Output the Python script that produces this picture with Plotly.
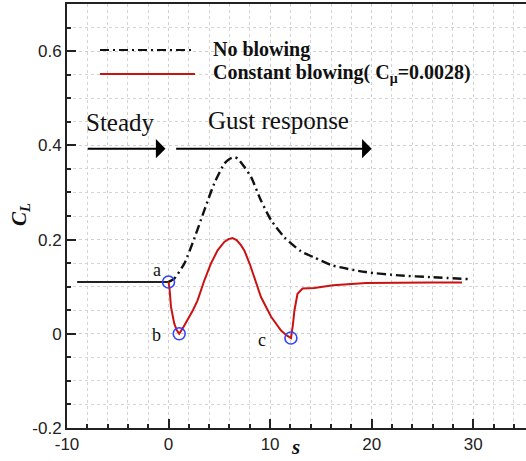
import plotly.graph_objects as go

# ---- data ----
steady_s = [-9.0, 0.0]
steady_cl = [0.11, 0.11]

noblow_s = [0.0, 0.56, 1.55, 2.53, 3.52, 4.5, 5.49, 6.0, 6.47, 6.8, 7.4, 8.12, 9.1, 10.1, 11.4,
            13.04, 14.35, 16.16, 19.4, 22.7, 26.0, 29.6]
noblow_cl = [0.11, 0.117, 0.149, 0.202, 0.262, 0.319, 0.361, 0.371, 0.375, 0.372, 0.356, 0.333,
             0.283, 0.241, 0.205, 0.175, 0.162, 0.145, 0.131, 0.124, 0.12, 0.116]

blow_s = [0.0, 0.1, 0.24, 0.56, 0.8, 1.05, 1.4, 1.87, 2.4, 2.86, 3.52, 4.17, 4.83, 5.49, 5.9,
          6.3, 6.7, 7.13, 7.46, 8.0, 8.44, 9.1, 10.1, 11.08, 11.6, 12.06, 12.25, 12.4, 12.7,
          13.2, 14.35, 16.2, 19.45, 22.7, 25.8, 28.9]
blow_cl = [0.11, 0.095, 0.057, 0.022, 0.008, 0.0, 0.012, 0.029, 0.05, 0.071, 0.113, 0.149,
           0.177, 0.195, 0.201, 0.203, 0.199, 0.188, 0.177, 0.148, 0.12, 0.078, 0.036, 0.007,
           -0.003, -0.009, 0.02, 0.05, 0.085, 0.096, 0.097, 0.103, 0.108, 0.109, 0.109, 0.109]

point_s = [0.0, 1.05, 12.05]
point_cl = [0.11, 0.0, -0.009]
point_labels = ["a", "b", "c"]
label_s = [-1.1, -1.2, 9.2]
label_cl = [0.135, -0.003, -0.014]

x_ticks = [-10, 0, 10, 20, 30]
y_ticks = [-0.2, 0, 0.2, 0.4, 0.6]
y_ticklabels = ["-0.2", "0", "0.2", "0.4", "0.6"]

RED = "#cc1111"
TIMES = "Liberation Serif"
ARIAL = "Liberation Sans"
DASHDOT = "9px,4px,2px,4px"

fig = go.Figure()
fig.add_trace(go.Scatter(x=steady_s, y=steady_cl, mode="lines",
                         line=dict(color="#222222", width=2), showlegend=False))
fig.add_trace(go.Scatter(x=noblow_s, y=noblow_cl, mode="lines", name="No blowing",
                         line=dict(color="#111111", width=2.4, dash=DASHDOT, shape="spline", smoothing=0.6),
                         showlegend=False))
fig.add_trace(go.Scatter(x=blow_s, y=blow_cl, mode="lines", name="Constant blowing",
                         line=dict(color=RED, width=2), showlegend=False))
fig.add_trace(go.Scatter(x=point_s, y=point_cl, mode="markers",
                         marker=dict(symbol="circle-open", size=12, color="#3344ff",
                                     line=dict(width=1.6, color="#3344ff")),
                         showlegend=False))

# point labels
for t, xs, ys in zip(point_labels, label_s, label_cl):
    fig.add_annotation(x=xs, y=ys, text=t, showarrow=False, xanchor="center", yanchor="middle",
                       font=dict(family=TIMES, size=18, color="#111"))

# arrows
fig.add_annotation(x=-0.3, y=0.393, ax=-8.1, ay=0.393, axref="x", ayref="y",
                   showarrow=True, arrowhead=1, arrowsize=1.6, arrowwidth=2,
                   arrowcolor="#000", text="")
fig.add_annotation(x=20.0, y=0.393, ax=0.6, ay=0.393, axref="x", ayref="y",
                   showarrow=True, arrowhead=1, arrowsize=1.6, arrowwidth=2,
                   arrowcolor="#000", text="")
fig.add_annotation(x=-8.3, y=0.448, text="Steady", showarrow=False, xanchor="left", yanchor="middle",
                   font=dict(family=TIMES, size=25, color="#111"))
fig.add_annotation(x=3.7, y=0.452, text="Gust response", showarrow=False, xanchor="left", yanchor="middle",
                   font=dict(family=TIMES, size=25, color="#111"))

# legend (drawn manually)
fig.add_shape(type="line", xref="paper", yref="paper", x0=(100-67)/459, x1=(195-67)/459,
              y0=(428-50)/424, y1=(428-50)/424,
              line=dict(color="#111", width=2.2, dash=DASHDOT))
fig.add_shape(type="line", xref="paper", yref="paper", x0=(100-67)/459, x1=(195-67)/459,
              y0=(428-74)/424, y1=(428-74)/424,
              line=dict(color=RED, width=2))
fig.add_annotation(xref="paper", yref="paper", x=(211-67)/459, y=(428-49)/424,
                   text="<b>No blowing</b>", showarrow=False, xanchor="left", yanchor="middle",
                   font=dict(family=TIMES, size=20, color="#111"))
fig.add_annotation(xref="paper", yref="paper", x=(211-67)/459, y=(428-73)/424,
                   text="<b>Constant blowing( C<sub>μ</sub>=0.0028)</b>", showarrow=False,
                   xanchor="left", yanchor="middle",
                   font=dict(family=TIMES, size=20, color="#111"))

# axis titles
fig.add_annotation(xref="paper", yref="paper", x=(20-67)/459, y=(428-215)/424,
                   text="<b><i>C<sub>L</sub></i></b>", textangle=-90, showarrow=False,
                   xanchor="center", yanchor="middle",
                   font=dict(family=TIMES, size=21, color="#111"))
fig.add_annotation(xref="paper", yref="paper", x=(295-67)/459, y=(428-447)/424,
                   text="<b><i>s</i></b>", showarrow=False, xanchor="center", yanchor="middle",
                   font=dict(family=TIMES, size=21, color="#111"))

grid_minor = dict(showgrid=True, gridcolor="#d4d4d4", griddash="dot", gridwidth=1)

fig.update_xaxes(range=[-10, 35.2], tickvals=x_ticks, ticktext=[str(v) for v in x_ticks],
                 ticks="inside", ticklen=9, tickwidth=2, tickcolor="#222",
                 showline=True, linewidth=2, linecolor="#222", mirror=True,
                 showgrid=True, gridcolor="#cfcfcf", griddash="dot", zeroline=False,
                 tickfont=dict(family=ARIAL, size=17, color="#222"),
                 minor=dict(dtick=2, ticks="inside", ticklen=4, tickcolor="#222", tickwidth=1.5,
                            **grid_minor))
fig.update_yaxes(range=[-0.2, 0.7], tickvals=y_ticks, ticktext=y_ticklabels,
                 ticks="inside", ticklen=9, tickwidth=2, tickcolor="#222",
                 showline=True, linewidth=2, linecolor="#222",
                 showgrid=True, gridcolor="#cfcfcf", griddash="dot", zeroline=False,
                 tickfont=dict(family=ARIAL, size=17, color="#222"),
                 minor=dict(dtick=0.05, ticks="inside", ticklen=4, tickcolor="#222", tickwidth=1.5,
                            **grid_minor))

fig.update_layout(width=526, height=461, margin=dict(l=67, r=0, t=4, b=33),
                  plot_bgcolor="white", paper_bgcolor="white", showlegend=False)

fig.write_html("out.html")
